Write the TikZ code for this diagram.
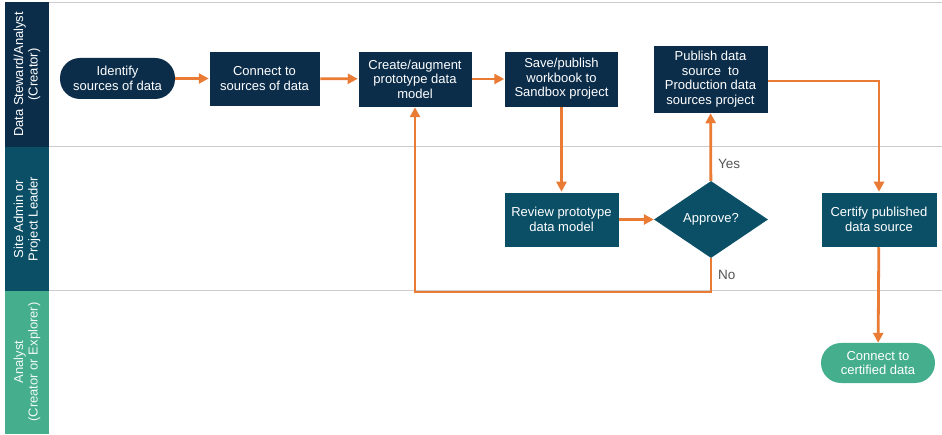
\documentclass[tikz,border=0pt]{standalone}
\usepackage{fontspec}
\setmainfont{Liberation Sans}
\usetikzlibrary{shapes.geometric,arrows.meta}
\definecolor{navy}{HTML}{0B2D4A}
\definecolor{tealc}{HTML}{0B4F66}
\definecolor{greenc}{HTML}{45AE8C}
\definecolor{orangec}{HTML}{E97B35}
\definecolor{grayl}{HTML}{CCCCCC}
\definecolor{grayt}{HTML}{555555}
\begin{document}
\begin{tikzpicture}[x=1pt,y=-1pt,
  txt/.style={text=white,font=\fontsize{13}{14.5}\selectfont,align=center,inner sep=0pt},
  boxn/.style={txt,fill=navy,draw=white,line width=0.5pt},
  boxt/.style={txt,fill=tealc,draw=white,line width=0.5pt},
  pill/.style={txt,rounded corners=20pt},
  flow/.style={draw=orangec,line width=2.8pt,-{Triangle[length=10pt,width=10pt]}},
  lanelbl/.style={text=white,font=\fontsize{13}{14.5}\selectfont,align=center,rotate=90,inner sep=0pt},
  lab/.style={text=grayt,font=\fontsize{13.5}{15}\selectfont,inner sep=0pt}
]
\useasboundingbox (0,0) rectangle (942,435);
% lanes
\fill[navy] (5,2) rectangle (49,147);
\fill[tealc] (5,147) rectangle (49,291);
\fill[greenc] (5,291) rectangle (49,434);
\draw[grayl,line width=1pt] (49,2.5) -- (942,2.5);
\draw[grayl,line width=1pt] (49,147) -- (942,147);
\draw[grayl,line width=1pt] (49,291) -- (942,291);
\node[lanelbl] (l1) at (27,74.5) {Data Steward/Analyst\\(Creator)};
\node[lanelbl] (l2) at (27,219) {Site Admin or\\Project Leader};
\node[lanelbl,text=white!92!greenc] (l3) at (27,362) {Analyst\\(Creator or Explorer)};
% nodes
\node[pill,fill=navy,minimum width=115pt,minimum height=41pt] (ident) at (117.5,78.5) {Identify\\sources of data};
\node[boxn,minimum width=111pt,minimum height=55pt] (conn) at (264.5,78.5) {Connect to\\sources of data};
\node[boxn,minimum width=114pt,minimum height=56pt] (create) at (415,79) {Create/augment\\prototype data\\model};
\node[boxn,minimum width=114pt,minimum height=56pt] (save) at (561.5,79) {Save/publish\\workbook to\\Sandbox project};
\node[boxn,minimum width=115pt,minimum height=68pt] (pub) at (710.5,79) {Publish data\\source\ \ to\\Production data\\sources project};
\node[boxt,minimum width=115pt,minimum height=55pt] (rev) at (561.5,219.5) {Review prototype\\data model};
\node[diamond,fill=tealc,txt,minimum width=114pt,minimum height=77pt,aspect=1.48] (appr) at (711,219.5) {Approve?};
\node[boxt,minimum width=116pt,minimum height=55pt] (cert) at (879,219.5) {Certify published\\data source};
\node[pill,fill=greenc,minimum width=114pt,minimum height=40pt] (ccd) at (878,363) {Connect to\\certified data};
% helper coordinates
\coordinate (nodown) at (711,292);
\coordinate (noleft) at (415,292);
\coordinate (pubright) at (879,81);
% connectors
\draw[flow] (ident) -- (conn);
\draw[flow] (conn) -- (create);
\draw[flow] (create) -- (save);
\draw[flow] (save) -- (rev);
\draw[flow] (rev) -- (appr);
\draw[flow] (appr) -- (pub);
\draw[flow] (appr.south) -- (nodown) -- (noleft) -- (create.south);
\draw[flow] (pub.east |- pubright) -- (pubright) -- (cert.north);
\draw[flow] (cert) -- (ccd);
\node[lab,anchor=west] (yes) at (718,164) {Yes};
\node[lab,anchor=west] (no) at (718,275) {No};
\end{tikzpicture}
\end{document}
